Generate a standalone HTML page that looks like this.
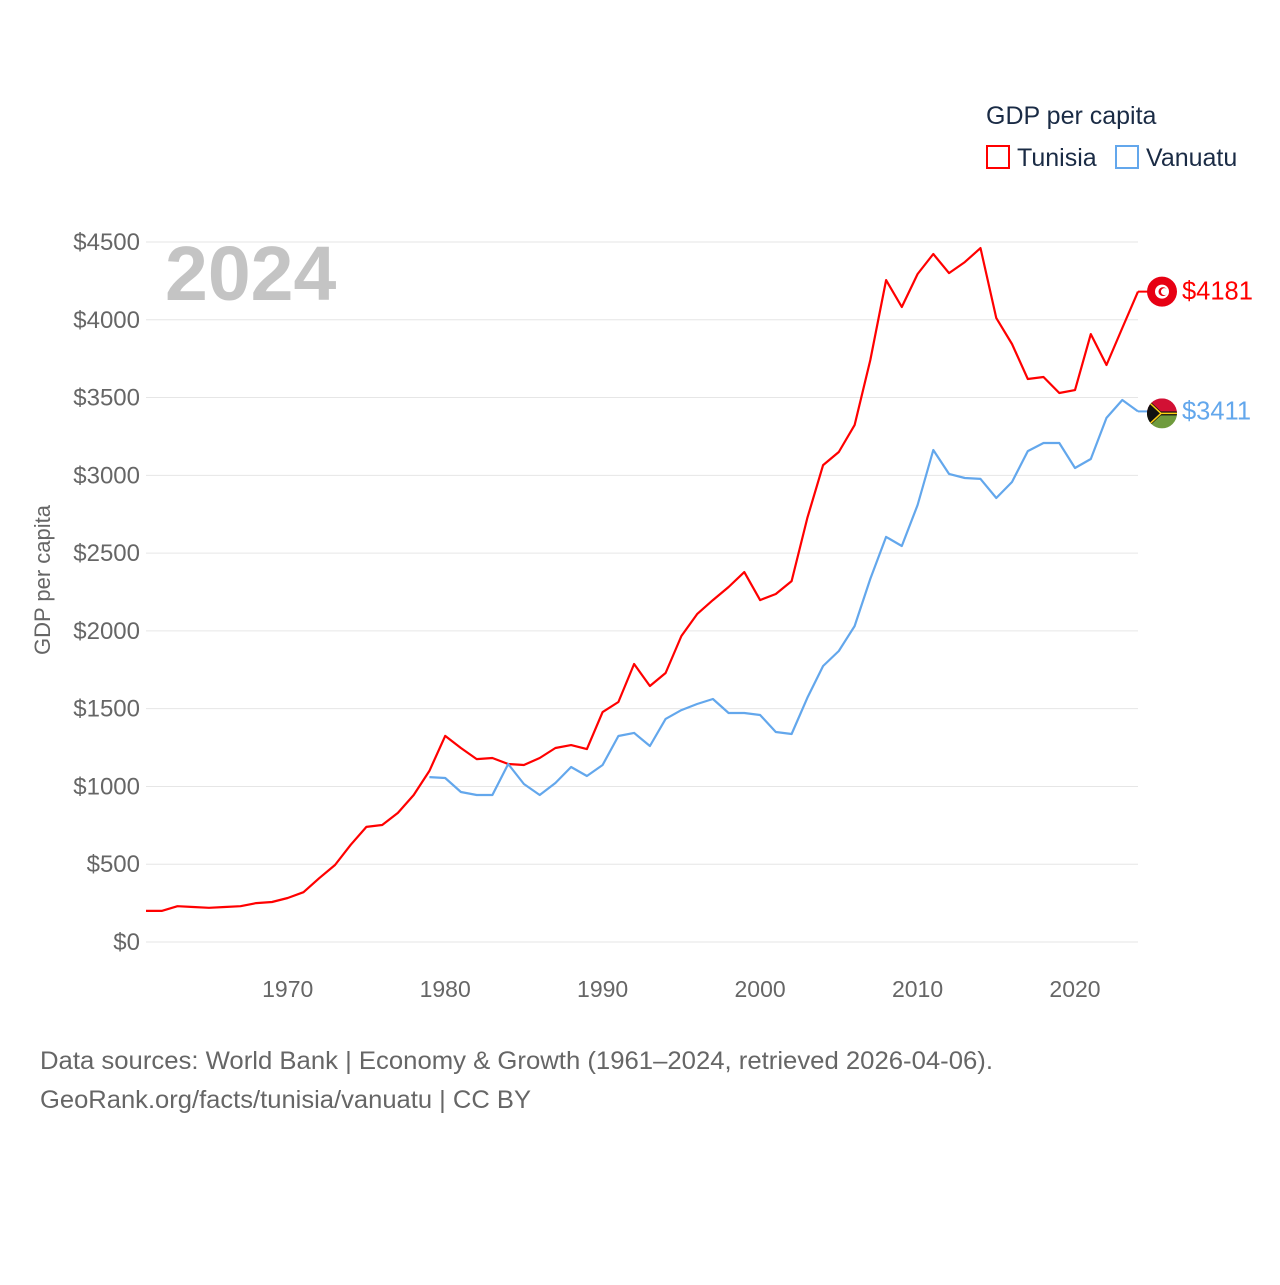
<!DOCTYPE html>
<html><head><meta charset="utf-8"><style>
body{margin:0;background:#fff;font-family:"Liberation Sans",sans-serif}
svg text{font-family:"Liberation Sans",sans-serif}
</style></head><body>
<svg id="chart" width="1280" height="1280" xmlns="http://www.w3.org/2000/svg">
<g id="grid"></g>
<g id="yticks"></g>
<g id="xticks"></g>
<text x="165" y="300" font-size="77" font-weight="bold" fill="#c4c4c4">2024</text>
<text transform="translate(50,580) rotate(-90)" text-anchor="middle" font-size="22" fill="#666">GDP per capita</text>
<g>
<text x="986" y="124" font-size="25" fill="#1a2b45">GDP per capita</text>
<g><rect x="987" y="146" width="22" height="22" fill="none" stroke="#f00" stroke-width="2"/><text x="1017" y="166" font-size="25" fill="#1a2b45">Tunisia</text></g>
<g><rect x="1116" y="146" width="22" height="22" fill="none" stroke="#63a7ec" stroke-width="2"/><text x="1146" y="166" font-size="25" fill="#1a2b45">Vanuatu</text></g>
</g>
<g id="series"></g>
<text x="40" y="1069" font-size="25" fill="#666" textLength="953" lengthAdjust="spacingAndGlyphs">Data sources: World Bank | Economy &amp; Growth (1961–2024, retrieved 2026-04-06).</text>
<text x="40" y="1108" font-size="25" fill="#666" textLength="491" lengthAdjust="spacingAndGlyphs">GeoRank.org/facts/tunisia/vanuatu | CC BY</text>
</svg>
<script>
const tunisiaYears=[];for(let y=1961;y<=2024;y++)tunisiaYears.push(y);
const tunisia=[200,200,230,225,220,225,230,250,257,283,320,410,495,625,740,752,830,945,1100,1325,1247,1176,1183,1144,1138,1183,1247,1266,1240,1478,1543,1787,1646,1729,1967,2108,2198,2282,2378,2198,2237,2320,2725,3066,3150,3323,3741,4255,4082,4294,4423,4300,4371,4461,4011,3844,3619,3632,3529,3548,3908,3709,3947,4181];
const vanuatuYears=[];for(let y=1979;y<=2024;y++)vanuatuYears.push(y);
const vanuatu=[1060,1054,964,945,945,1144,1016,945,1022,1125,1067,1138,1324,1344,1260,1434,1491,1530,1562,1472,1472,1459,1350,1337,1569,1774,1871,2031,2334,2604,2546,2809,3163,3009,2983,2977,2854,2957,3156,3208,3208,3047,3105,3369,3484,3411];
const yTicks=[0,500,1000,1500,2000,2500,3000,3500,4000,4500];
const xTicks=[1970,1980,1990,2000,2010,2020];
const NS="http://www.w3.org/2000/svg";
const X=y=>146+(y-1961)*(1138-146)/63;
const Y=v=>942-v*700/4500;
function mk(t,a,p){const e=document.createElementNS(NS,t);for(const k in a)e.setAttribute(k,a[k]);p.appendChild(e);return e;}
const grid=document.getElementById('grid'),yt=document.getElementById('yticks'),xt=document.getElementById('xticks'),ser=document.getElementById('series');
yTicks.forEach(v=>{
 const l=mk('line',{x1:146,x2:1138,y1:Y(v),y2:Y(v),stroke:'#e6e6e6','stroke-width':1},grid);
 
 
 const t=mk('text',{x:140,y:Y(v)+8,'text-anchor':'end','font-size':24,fill:'#666'},yt);t.textContent='$'+v;
 
 
});
xTicks.forEach(v=>{
 const t=mk('text',{x:X(v),y:997,'text-anchor':'middle','font-size':23,fill:'#666'},xt);t.textContent=v;
 
 
});
function line(years,vals,color,name){
 const d=years.map((y,i)=>(i?'L':'M')+X(y).toFixed(1)+','+Y(vals[i]).toFixed(1)).join('');
 const p=mk('path',{d:d,fill:'none',stroke:color,'stroke-width':2.2,'stroke-linejoin':'round'},ser);
 
 
}
line(tunisiaYears,tunisia,'#ff0000','tunisia');
line(vanuatuYears,vanuatu,'#63a7ec','vanuatu');
const tv=tunisia[tunisia.length-1],vv=vanuatu[vanuatu.length-1];
const cyT=Y(tv),cyV=Y(vv)+2;
mk('path',{d:`M1138,${cyT}L1150,${cyT}`,stroke:'#f00','stroke-width':2,fill:'none'},ser);
mk('path',{d:`M1138,${Y(vv)}L1150,${Y(vv)}`,stroke:'#63a7ec','stroke-width':2,fill:'none'},ser);
const ft=mk('g',{},ser);


mk('circle',{cx:1162,cy:cyT,r:15,fill:'#e70013'},ft);
mk('circle',{cx:1162,cy:cyT,r:7,fill:'#fff'},ft);
mk('circle',{cx:1163,cy:cyT,r:4.5,fill:'#e70013'},ft);
mk('circle',{cx:1164.5,cy:cyT,r:3.5,fill:'#fff'},ft);
const fv=mk('g',{},ser);


const clip=mk('clipPath',{id:'vc'},fv);mk('circle',{cx:1162,cy:cyV,r:15},clip);
const gv=mk('g',{'clip-path':'url(#vc)'},fv);
mk('rect',{x:1147,y:cyV-15,width:30,height:15,fill:'#d21034'},gv);
mk('rect',{x:1147,y:cyV,width:30,height:15,fill:'#6f9b3d'},gv);
mk('rect',{x:1147,y:cyV-2,width:30,height:4,fill:'#111'},gv);
mk('polygon',{points:`1147,${cyV-15} 1163,${cyV} 1147,${cyV+15}`,fill:'#111'},gv);
mk('polyline',{points:`1147,${cyV-13} 1161,${cyV} 1177,${cyV} 1161,${cyV} 1147,${cyV+13}`,fill:'none',stroke:'#fdce12','stroke-width':1.5},gv);
const lt=mk('text',{x:1182,y:cyT+8,'font-size':25.5,fill:'#f00'},ser);lt.textContent='$'+tv;


const lv=mk('text',{x:1182,y:Y(vv)+8,'font-size':25.5,fill:'#63a7ec'},ser);lv.textContent='$'+vv;


</script>
</body></html>
